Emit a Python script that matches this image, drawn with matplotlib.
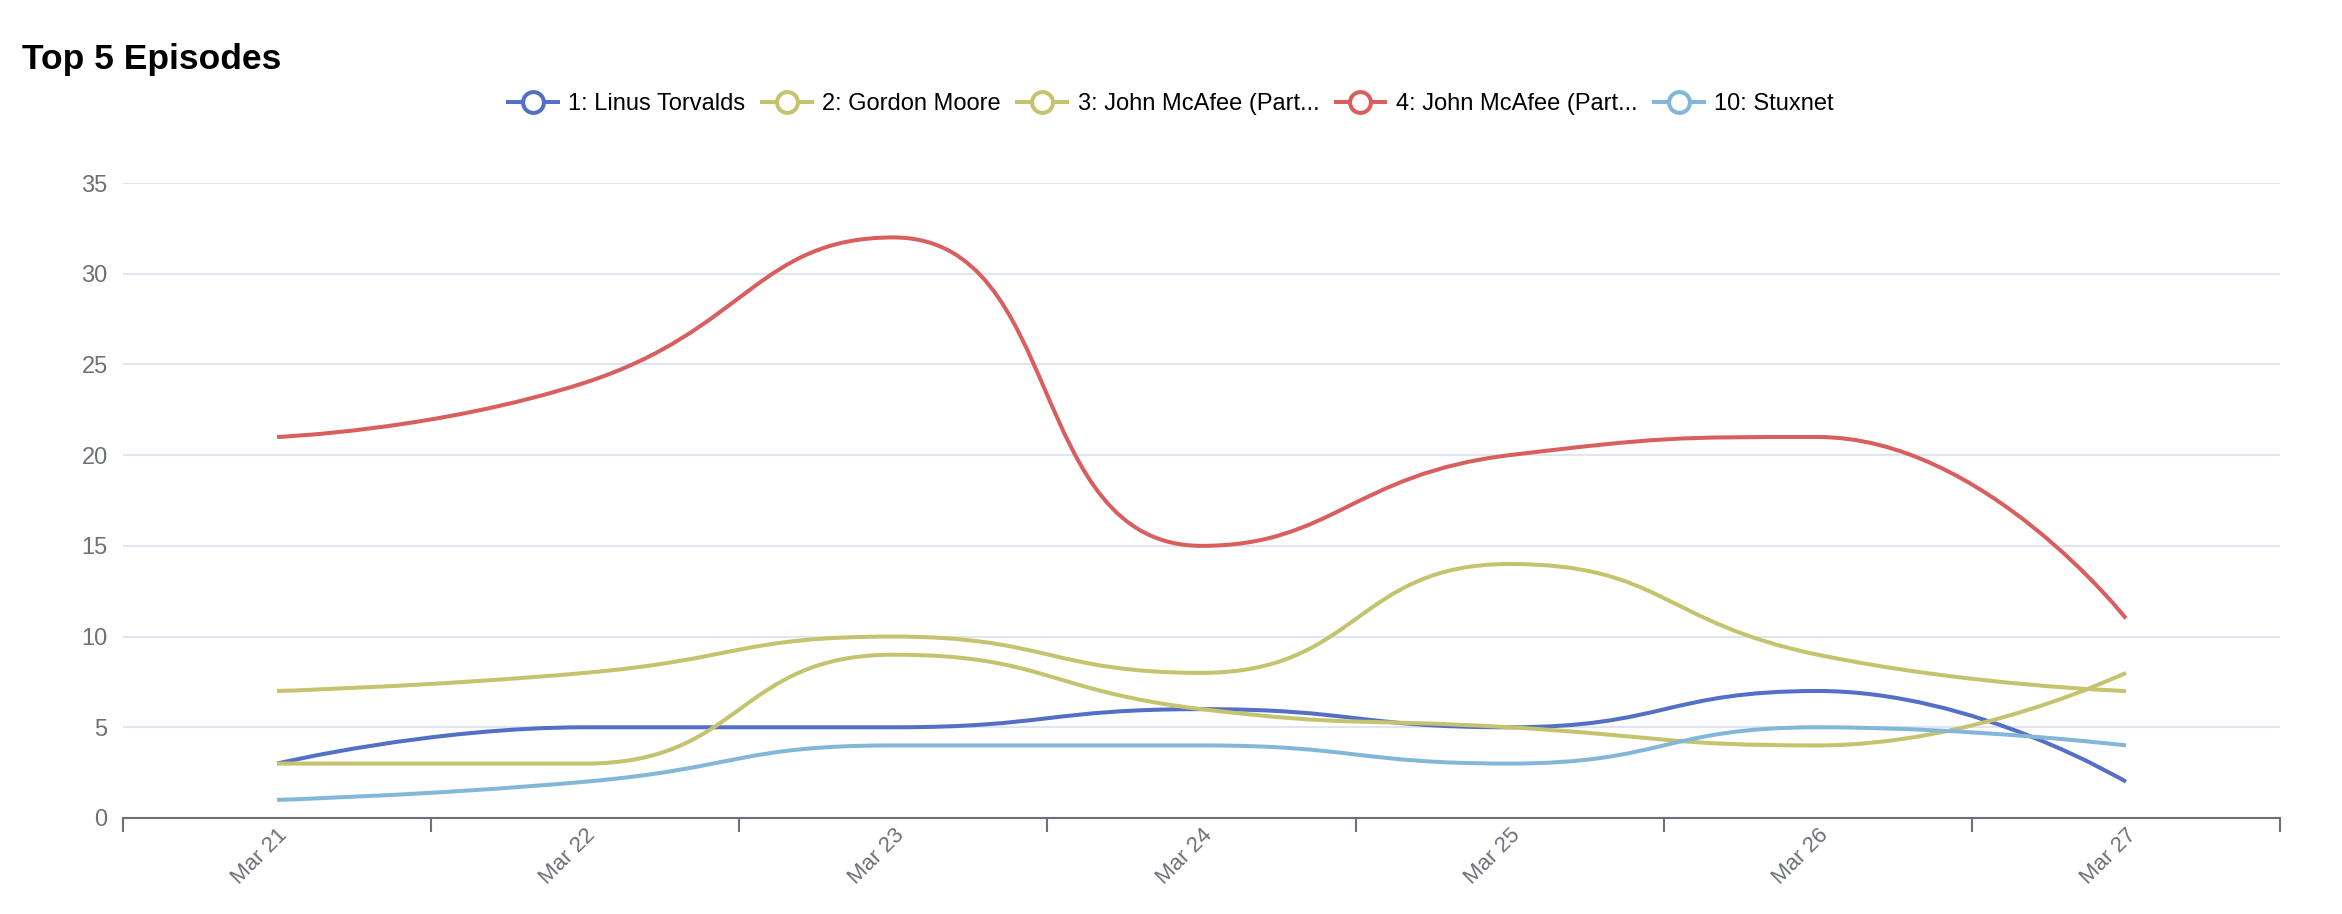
import numpy as np
import matplotlib
matplotlib.use("Agg")
import matplotlib.pyplot as plt
from matplotlib.path import Path
from matplotlib.patches import PathPatch
from matplotlib.lines import Line2D

plt.rcParams['font.family'] = ['Liberation Sans', 'DejaVu Sans']

# data
days = ['Mar 21', 'Mar 22', 'Mar 23', 'Mar 24', 'Mar 25', 'Mar 26', 'Mar 27']
names = ['1: Linus Torvalds', '2: Gordon Moore', '3: John McAfee (Part...',
         '4: John McAfee (Part...', '10: Stuxnet']
linus = [3, 5, 5, 6, 5, 7, 2]
moore = [3, 3, 9, 6, 5, 4, 8]
mcafee1 = [7, 8, 10, 8, 14, 9, 7]
mcafee2 = [21, 24, 32, 15, 20, 21, 11]
stuxnet = [1, 2, 4, 4, 3, 5, 4]
series = [linus, moore, mcafee1, mcafee2, stuxnet]
colors = ['#5470c6', '#c6c36e', '#c6c36e', '#d95f5f', '#83b7d9']

W, H = 2342, 914
fig = plt.figure(figsize=(W / 100, H / 100), dpi=100)
left, right, bottom, top = 123, 2280, 818, 183
ax = fig.add_axes([left / W, 1 - bottom / H, (right - left) / W, (bottom - top) / H])
ax.set_xlim(-0.5, len(days) - 0.5)
ax.set_ylim(0, 35)

# pixel scale, so the smoothing matches the one done on screen
sx = (right - left) / len(days)
sy = (bottom - top) / 35.0


def clamp(v, a, b):
    return min(max(v, min(a, b)), max(a, b))


def smooth_path(xs, ys, smooth=0.5):
    pts = [(x * sx, y * sy) for x, y in zip(xs, ys)]
    verts = [pts[0]]
    codes = [Path.MOVETO]
    cp0 = pts[0]
    n = len(pts)
    for i in range(1, n):
        x, y = pts[i]
        px, py = pts[i - 1]
        if i == n - 1:
            cp1 = (x, y)
            ncp0 = None
        else:
            nx, ny = pts[i + 1]
            vx, vy = nx - px, ny - py
            lp = np.hypot(x - px, y - py)
            ln = np.hypot(nx - x, ny - y)
            r = ln / (ln + lp)
            ncx = clamp(x + vx * smooth * r, nx, x)
            ncy = clamp(y + vy * smooth * r, ny, y)
            vx, vy = ncx - x, ncy - y
            c1x = clamp(x - vx * lp / ln, px, x)
            c1y = clamp(y - vy * lp / ln, py, y)
            vx, vy = x - c1x, y - c1y
            ncp0 = (x + vx * ln / lp, y + vy * ln / lp)
            cp1 = (c1x, c1y)
        verts += [cp0, cp1, (x, y)]
        codes += [Path.CURVE4] * 3
        cp0 = ncp0
    verts = [(vx / sx, vy / sy) for vx, vy in verts]
    return Path(verts, codes)


xs = np.arange(len(days))
for vals, c in zip(series, colors):
    patch = PathPatch(smooth_path(xs, vals), facecolor='none', edgecolor=c,
                      lw=2.9, capstyle='butt', joinstyle='round', zorder=3)
    ax.add_patch(patch)

# axes styling
for s in ['top', 'right', 'left']:
    ax.spines[s].set_visible(False)
ax.spines['bottom'].set_color('#6e7079')
ax.spines['bottom'].set_linewidth(1.5)
ax.spines['bottom'].set_zorder(4)

ax.set_yticks(range(0, 36, 5))
ax.yaxis.grid(True, color='#e0e6f1', lw=1.5)
ax.set_axisbelow(True)
ax.tick_params(axis='y', length=0, pad=11, labelsize=17, labelcolor='#6e7079')

ax.set_xticks(np.arange(-0.5, len(days), 1.0))
ax.set_xticklabels([])
ax.tick_params(axis='x', which='major', length=10, width=1.5, color='#6e7079')
ax.set_xticks(xs, minor=True)
ax.set_xticklabels(days, minor=True, rotation=45, ha='right', va='top',
                   rotation_mode='anchor', fontsize=16, color='#6e7079')
ax.tick_params(axis='x', which='minor', length=0, pad=5)

fig.text(22 / W, 1 - 69 / H, 'Top 5 Episodes', fontsize=25.5, fontweight='bold',
         ha='left', va='baseline', color='#000000')

handles = [Line2D([], [], color=c, lw=2.9, marker='o', markersize=15,
                  markerfacecolor='white', markeredgewidth=2.9, markeredgecolor=c)
           for c in colors]
fig.legend(handles, names, loc='center', bbox_to_anchor=(0.5, 1 - 104 / H),
           ncol=5, frameon=False, fontsize=17, handlelength=2.1,
           handletextpad=0.45, columnspacing=0.7)

fig.savefig('out.png', dpi=100)
